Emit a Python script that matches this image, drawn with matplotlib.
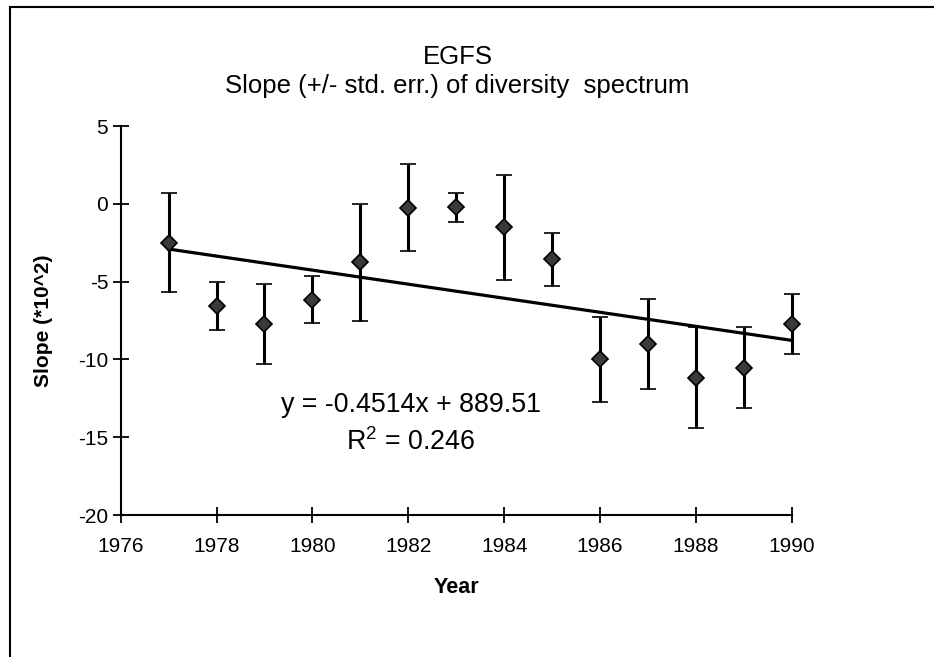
"""EGFS: slope of the diversity spectrum by year, with std. err. bars and trend line."""
import matplotlib
matplotlib.use("Agg")
import matplotlib.pyplot as plt
from matplotlib.patches import Rectangle
import numpy as np

plt.rcParams["font.family"] = ["Liberation Sans", "DejaVu Sans"]
plt.rcParams["mathtext.fontset"] = "custom"
plt.rcParams["mathtext.rm"] = "Liberation Sans"
plt.rcParams["axes.unicode_minus"] = False

# values
years = [1977, 1978, 1979, 1980, 1981, 1982, 1983, 1984, 1985, 1986, 1987, 1988, 1989, 1990]
slope = [-2.5, -6.57, -7.72, -6.17, -3.75, -0.24, -0.22, -1.5, -3.57, -10.0, -9.0, -11.17, -10.52, -7.74]
std_err = [3.17, 1.53, 2.55, 1.5, 3.77, 2.8, 0.92, 3.38, 1.7, 2.74, 2.87, 3.23, 2.6, 1.93]

# trend line as printed on the chart
TREND_SLOPE = -0.4514
TREND_INTERCEPT = 889.51
TREND_R2 = 0.246

x_ticks = [1976, 1978, 1980, 1982, 1984, 1986, 1988, 1990]
y_ticks = [-20, -15, -10, -5, 0, 5]

fig = plt.figure(figsize=(9.34, 6.57), dpi=100)
ax = fig.add_axes([0.1292, 0.2161, 0.7185, 0.5921])

ax.errorbar(years, slope, yerr=std_err, fmt="D", color="black",
            mfc="#3a3a3a", mec="black", mew=1.2, ms=8.5,
            ecolor="black", elinewidth=2.2, capsize=6, capthick=2.2,
            clip_on=False)

tx = np.array([years[0], years[-1]])
ax.plot(tx, TREND_SLOPE * tx + TREND_INTERCEPT, color="black", lw=2.3)

ax.text(1982.05, -12.9, f"y = {TREND_SLOPE}x + {TREND_INTERCEPT}",
        ha="center", va="center", fontsize=19.3)
ax.text(1982.05, -15.3, r"R$^{2}$ = " + f"{TREND_R2}",
        ha="center", va="center", fontsize=19.3)

ax.set_xlim(1976, 1990)
ax.set_ylim(-20, 5)
ax.set_xticks(x_ticks)
ax.set_yticks(y_ticks)
ax.spines["top"].set_visible(False)
ax.spines["right"].set_visible(False)
for s in ("left", "bottom"):
    ax.spines[s].set_linewidth(1.5)
ax.tick_params(direction="inout", length=12, width=1.3, labelsize=15)
ax.tick_params(axis="x", pad=10)
ax.tick_params(axis="y", pad=3)

ax.set_xlabel("Year", fontsize=15.5, fontweight="bold")
ax.xaxis.set_label_coords(0.5, -0.16)
ax.xaxis.label.set_va("top")
ax.set_ylabel("Slope (*10^2)", fontsize=15, fontweight="bold")
ax.yaxis.set_label_coords(-0.101, 0.5)

fig.text(0.49, 1 - 57 / 657, "EGFS", ha="center", va="center", fontsize=18.5)
fig.text(0.49, 1 - 86 / 657, "Slope (+/- std. err.) of diversity  spectrum",
         ha="center", va="center", fontsize=18.5)

# chart-area border (only top and left edges fall inside the scan)
fig.add_artist(Rectangle((0.011, -0.05), 1.2, 1.0393, transform=fig.transFigure,
                         fill=False, lw=1.5, ec="black"))

fig.savefig("out.png", dpi=100)
